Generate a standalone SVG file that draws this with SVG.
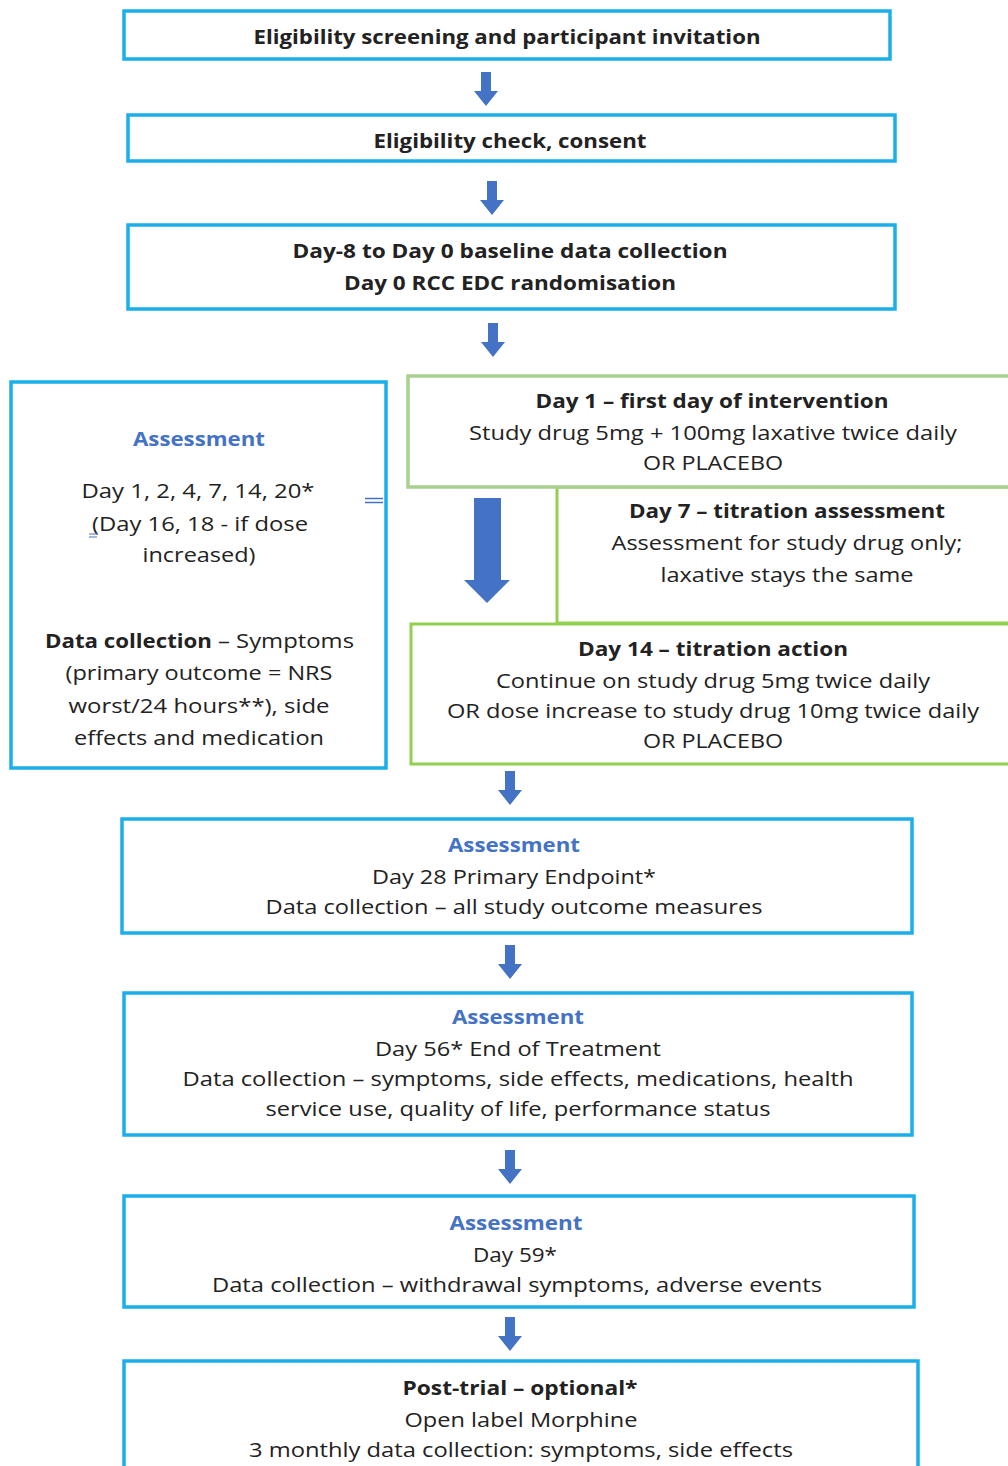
<svg xmlns="http://www.w3.org/2000/svg" width="1008" height="1466" viewBox="0 0 1008 1466">
<style>
.b{fill:#fff;stroke:#1AAEEA;stroke-width:3.5}
.g1{fill:#fff;stroke:#A9D18E;stroke-width:3.5}
.g2{fill:#fff;stroke:#92D050;stroke-width:3}
text{font-family:"Open Sans","Liberation Sans",sans-serif;font-size:20px;fill:#222;text-anchor:middle}
.bd{font-weight:bold}
.as{font-weight:bold;fill:#4472C4}
.st{text-anchor:start}
.arr{fill:#4472C4}
</style>
<defs>
<path id="sa" d="M-5,0 H5 V19 H12 L0,34 L-12,19 H-5 Z"/>
</defs>
<rect width="1008" height="1466" fill="#fff"/>

<g id="connectors">
<use href="#sa" class="arr" x="486" y="72"/>
<use href="#sa" class="arr" x="492" y="181"/>
<use href="#sa" class="arr" x="493" y="323"/>
<path class="arr" d="M474,498 H501 V580 H510 L487,603 L464,580 H474 Z"/>
<use href="#sa" class="arr" x="510" y="771"/>
<use href="#sa" class="arr" x="510" y="945"/>
<use href="#sa" class="arr" x="510" y="1150"/>
<use href="#sa" class="arr" x="510" y="1317"/>
</g>

<g id="n1">
<rect class="b" x="124" y="11" width="766" height="48"/>
<text class="bd" x="507" y="44" textLength="507" lengthAdjust="spacingAndGlyphs">Eligibility screening and participant invitation</text>
</g>
<g id="n2">
<rect class="b" x="128" y="115" width="767" height="46"/>
<text class="bd" x="510" y="148" textLength="273" lengthAdjust="spacingAndGlyphs">Eligibility check, consent</text>
</g>
<g id="n3">
<rect class="b" x="128" y="225" width="767" height="84"/>
<text class="bd" x="510" y="258" textLength="435" lengthAdjust="spacingAndGlyphs">Day-8 to Day 0 baseline data collection</text>
<text class="bd" x="510" y="290" textLength="332" lengthAdjust="spacingAndGlyphs">Day 0 RCC EDC randomisation</text>
</g>

<g id="left">
<rect class="b" x="11" y="382" width="375" height="386"/>
<text class="as" x="199" y="446" textLength="132" lengthAdjust="spacingAndGlyphs">Assessment</text>
<text x="198" y="498" textLength="233" lengthAdjust="spacingAndGlyphs">Day 1, 2, 4, 7, 14, 20*</text>
<text x="200" y="531" textLength="216" lengthAdjust="spacingAndGlyphs">(Day 16, 18 - if dose</text>
<text x="199" y="562" textLength="113" lengthAdjust="spacingAndGlyphs">increased)</text>
<text class="bd st" x="45" y="648" textLength="167" lengthAdjust="spacingAndGlyphs">Data collection</text>
<text class="st" x="218" y="648" textLength="136" lengthAdjust="spacingAndGlyphs">– Symptoms</text>
<text x="199" y="680" textLength="267" lengthAdjust="spacingAndGlyphs">(primary outcome = NRS</text>
<text x="199" y="713" textLength="261" lengthAdjust="spacingAndGlyphs">worst/24 hours**), side</text>
<text x="199" y="745" textLength="250" lengthAdjust="spacingAndGlyphs">effects and medication</text>
<path d="M365,498.5 H383 M365,502.5 H383" stroke="#4472C4" stroke-width="1.3"/>
<path d="M89,534 H97 M89,537 H97" stroke="#4472C4" stroke-width="1.2"/>
</g>

<g id="day7">
<rect class="g2" x="557" y="487" width="460" height="136"/>
<text class="bd" x="787" y="518" textLength="316" lengthAdjust="spacingAndGlyphs">Day 7 – titration assessment</text>
<text x="787" y="550" textLength="351" lengthAdjust="spacingAndGlyphs">Assessment for study drug only;</text>
<text x="787" y="582" textLength="253" lengthAdjust="spacingAndGlyphs">laxative stays the same</text>
</g>
<g id="day1">
<rect class="g1" x="408" y="376" width="610" height="111"/>
<text class="bd" x="712" y="408" textLength="353" lengthAdjust="spacingAndGlyphs">Day 1 – first day of intervention</text>
<text x="713" y="440" textLength="488" lengthAdjust="spacingAndGlyphs">Study drug 5mg + 100mg laxative twice daily</text>
<text x="713" y="470" textLength="140" lengthAdjust="spacingAndGlyphs">OR PLACEBO</text>
</g>
<g id="day14">
<rect class="g2" x="411" y="624" width="607" height="140"/>
<text class="bd" x="713" y="656" textLength="270" lengthAdjust="spacingAndGlyphs">Day 14 – titration action</text>
<text x="713" y="688" textLength="434" lengthAdjust="spacingAndGlyphs">Continue on study drug 5mg twice daily</text>
<text x="713" y="718" textLength="532" lengthAdjust="spacingAndGlyphs">OR dose increase to study drug 10mg twice daily</text>
<text x="713" y="748" textLength="140" lengthAdjust="spacingAndGlyphs">OR PLACEBO</text>
</g>

<g id="day28">
<rect class="b" x="122" y="819" width="790" height="114"/>
<text class="as" x="514" y="852" textLength="132" lengthAdjust="spacingAndGlyphs">Assessment</text>
<text x="514" y="884" textLength="284" lengthAdjust="spacingAndGlyphs">Day 28 Primary Endpoint*</text>
<text x="514" y="914" textLength="497" lengthAdjust="spacingAndGlyphs">Data collection – all study outcome measures</text>
</g>
<g id="day56">
<rect class="b" x="124" y="993" width="788" height="142"/>
<text class="as" x="518" y="1024" textLength="132" lengthAdjust="spacingAndGlyphs">Assessment</text>
<text x="518" y="1056" textLength="286" lengthAdjust="spacingAndGlyphs">Day 56* End of Treatment</text>
<text x="518" y="1086" textLength="671" lengthAdjust="spacingAndGlyphs">Data collection – symptoms, side effects, medications, health</text>
<text x="518" y="1116" textLength="505" lengthAdjust="spacingAndGlyphs">service use, quality of life, performance status</text>
</g>
<g id="day59">
<rect class="b" x="124" y="1196" width="790" height="111"/>
<text class="as" x="516" y="1230" textLength="133" lengthAdjust="spacingAndGlyphs">Assessment</text>
<text x="515" y="1262" textLength="84" lengthAdjust="spacingAndGlyphs">Day 59*</text>
<text x="517" y="1292" textLength="610" lengthAdjust="spacingAndGlyphs">Data collection – withdrawal symptoms, adverse events</text>
</g>
<g id="post">
<rect class="b" x="124" y="1361" width="794" height="120"/>
<text class="bd" x="520" y="1395" textLength="235" lengthAdjust="spacingAndGlyphs">Post-trial – optional*</text>
<text x="521" y="1427" textLength="233" lengthAdjust="spacingAndGlyphs">Open label Morphine</text>
<text x="521" y="1457" textLength="544" lengthAdjust="spacingAndGlyphs">3 monthly data collection: symptoms, side effects</text>
</g>
</svg>
